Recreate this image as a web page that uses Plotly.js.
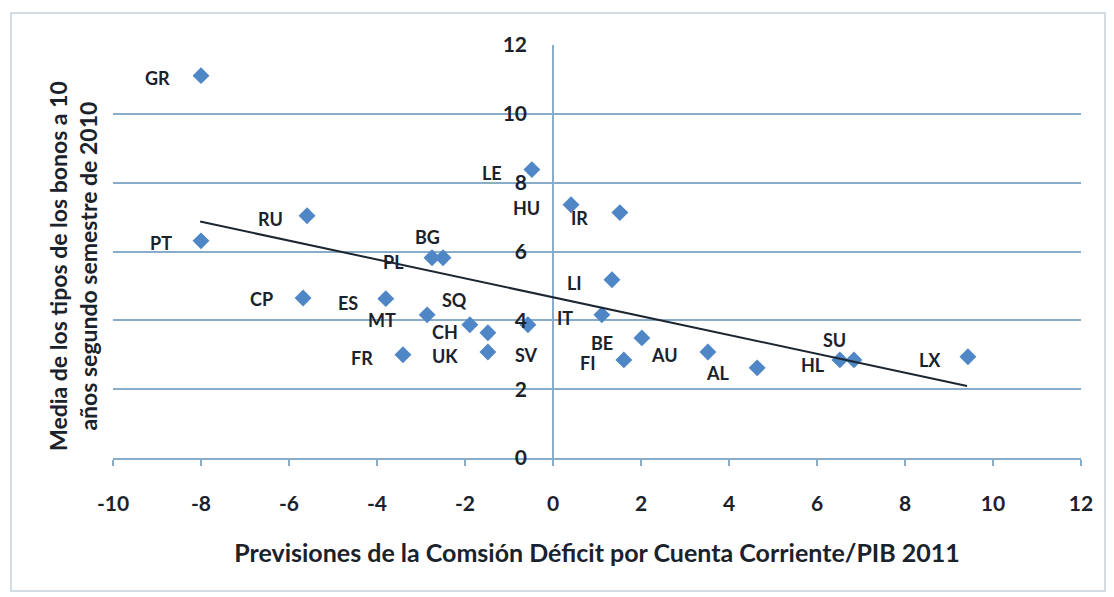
<!DOCTYPE html>
<html>
<head>
<meta charset="utf-8">
<script src="https://cdn.plot.ly/plotly-3.0.1.min.js"></script>
<style>
  html, body { margin: 0; padding: 0; background: #ffffff; }
  #wrap { position: relative; width: 1114px; height: 597px; }
  #chart { width: 1114px; height: 597px; }
  #frame { position: absolute; left: 10px; top: 12px; width: 1092px; height: 576px;
           border: 2px solid #d3dbe3; pointer-events: none; }
</style>
</head>
<body>
<div id="wrap">
  <div id="chart"></div>
  <div id="frame"></div>
</div>
<script>
// Country codes
const countries = ["GR","RU","PT","BG","PL","LE","HU","IR","LI","IT","BE","FI","AU","AL","HL","SU","LX",
                   "CP","ES","MT","FR","SQ","CH","UK","SV"];
// Current-account forecast / GDP 2011 (x)
const deficit = [-8.0,-5.59,-8.0,-2.5,-2.75,-0.48,0.41,1.52,1.34,1.11,2.02,1.61,3.52,4.64,6.52,6.84,9.43,
                 -5.68,-3.8,-2.86,-3.41,-1.89,-1.48,-1.48,-0.57];
// Mean 10-year bond yield, 2nd half 2010 (y)
const bondYield = [11.11,7.04,6.31,5.82,5.82,8.38,7.36,7.13,5.18,4.16,3.49,2.85,3.08,2.62,2.85,2.85,2.94,
                   4.65,4.63,4.16,3.0,3.87,3.64,3.08,3.87];
// Trend line endpoints
const trendX = [-8.02, 9.41];
const trendY = [6.87, 2.09];
// Axis ticks
const xTicks = [-10,-8,-6,-4,-2,0,2,4,6,8,10,12];
const yTicks = [0,2,4,6,8,10,12];

// Label pixel offsets (style only)
const labelShift = [[-44,-2],[-37,-3],[-40,-2],[-16,21],[-39,-4],[-40,-3],[-45,-3],[-40,-5],[-37,-3],[-37,-3],
                    [-40,-5],[-36,-3],[-43,-3],[-39,-5],[-27,-5],[-19,20],[-38,-3],
                    [-42,-1],[-38,-4],[-45,-5],[-41,-3],[-15,25],[-43,1],[-43,-4],[-1,-30]];

const gridCol = "#8aaccb";
const txtCol = "#1a222c";
const fontFam = "Lato, 'Open Sans', sans-serif";

const traces = [
  {
    x: deficit, y: bondYield, type: "scatter", mode: "markers",
    marker: { symbol: "diamond", size: 13, color: "#4f86c6" },
    hoverinfo: "text", text: countries, xaxis: "x", yaxis: "y"
  },
  {
    x: trendX, y: trendY, type: "scatter", mode: "lines",
    line: { color: "#1b2630", width: 2 }, hoverinfo: "skip", xaxis: "x", yaxis: "y"
  }
];

const annotations = countries.map((c, i) => ({
  x: deficit[i], y: bondYield[i], xref: "x", yref: "y", text: c, showarrow: false,
  xshift: labelShift[i][0], yshift: labelShift[i][1],
  font: { family: fontFam, size: 18, color: txtCol, weight: 700 }
}));

annotations.push({
  xref: "paper", yref: "paper", x: (73 - 113) / 968, y: (458 - 266) / 413,
  text: "Media de los tipos de los bonos a 10<br>años segundo semestre de 2010",
  showarrow: false, textangle: -90, xanchor: "center", yanchor: "middle",
  font: { family: fontFam, size: 23, color: txtCol, weight: 700 }
});

const layout = {
  width: 1114, height: 597,
  margin: { l: 113, r: 33, t: 45, b: 139 },
  paper_bgcolor: "#ffffff", plot_bgcolor: "#ffffff",
  showlegend: false,
  font: { family: fontFam, color: txtCol },
  xaxis: {
    range: [-10, 12], tickvals: xTicks, ticktext: xTicks.map(String),
    showgrid: false, zeroline: true, zerolinecolor: gridCol, zerolinewidth: 1.5,
    showline: true, linecolor: gridCol, linewidth: 2,
    ticks: "outside", ticklen: 6, tickwidth: 1.5, tickcolor: gridCol,
    ticklabelstandoff: 20,
    tickfont: { family: fontFam, size: 21, color: txtCol, weight: 700 },
    title: { text: "Previsiones de la Comsión Déficit por Cuenta Corriente/PIB 2011",
             standoff: 30, font: { family: fontFam, size: 25, color: txtCol, weight: 700 } },
    fixedrange: true
  },
  yaxis: {
    range: [0, 12], tickvals: yTicks, ticktext: yTicks.map(String),
    anchor: "free", position: 10 / 22,
    showgrid: true, gridcolor: gridCol, gridwidth: 2,
    zeroline: false, showline: false, ticks: "",
    ticklabelstandoff: 26,
    tickfont: { family: fontFam, size: 21, color: txtCol, weight: 700 },
    fixedrange: true
  },
  annotations: annotations
};

Plotly.newPlot("chart", traces, layout, { displayModeBar: false, staticPlot: true });
</script>
</body>
</html>
